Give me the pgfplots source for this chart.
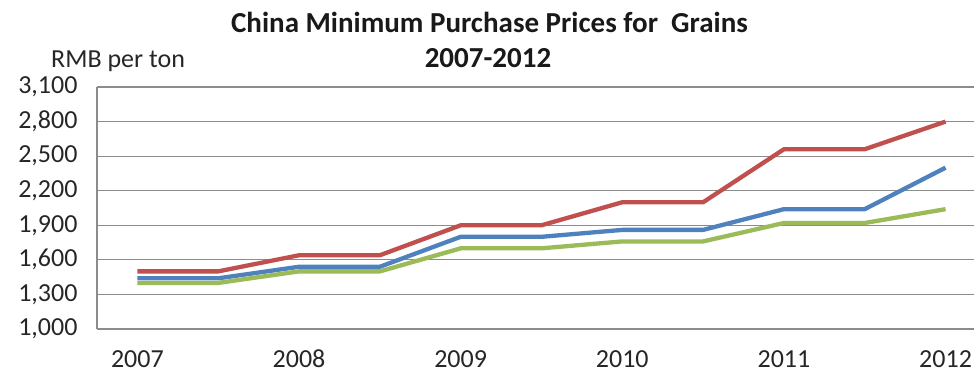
\documentclass[border=0pt]{standalone}
\usepackage{pgfplots}
\pgfplotsset{compat=1.18}
\usepackage{fontspec}
\setmainfont{Carlito}
\definecolor{exred}{HTML}{C0504D}
\definecolor{exblue}{HTML}{4F81BD}
\definecolor{exgreen}{HTML}{9BBB59}
\definecolor{gridc}{HTML}{8C8C8C}
\begin{document}
\begin{tikzpicture}[x=1pt,y=1pt]
\useasboundingbox (0,0) rectangle (976,378);
\begin{axis}[
  at={(97pt,49pt)}, anchor=south west,
  scale only axis, width=877pt, height=242pt,
  xmin=2006.75, xmax=2012.176,
  ymin=1000, ymax=3100,
  ytick={1000,1300,1600,1900,2200,2500,2800,3100},
  xtick={2007,2008,2009,2010,2011,2012},
  xticklabels={2007,2008,2009,2010,2011,2012},
  scaled y ticks=false,
  /pgf/number format/assume math mode=true,
  /pgf/number format/1000 sep={,},
  ymajorgrids, major grid style={gridc, line width=1.2pt},
  major tick length=0pt,
  axis x line*=bottom, axis y line*=left,
  axis line style={gridc, line width=1.2pt, -},
  tick label style={font=\fontsize{26}{30}\selectfont, text=black!85},
  yticklabel style={xshift=-16pt},
  xticklabel style={yshift=-18pt, text height=17pt, text depth=0pt},
  clip=false,
]
\addplot[exred, line width=4.3pt, line join=round] coordinates {
 (2007,1500) (2007.5,1500) (2008,1640) (2008.5,1640) (2009,1900) (2009.5,1900)
 (2010,2100) (2010.5,2100) (2011,2560) (2011.5,2560) (2012,2800)};
\addplot[exblue, line width=4.3pt, line join=round] coordinates {
 (2007,1440) (2007.5,1440) (2008,1540) (2008.5,1540) (2009,1800) (2009.5,1800)
 (2010,1860) (2010.5,1860) (2011,2040) (2011.5,2040) (2012,2400)};
\addplot[exgreen, line width=4.3pt, line join=round] coordinates {
 (2007,1400) (2007.5,1400) (2008,1500) (2008.5,1500) (2009,1700) (2009.5,1700)
 (2010,1760) (2010.5,1760) (2011,1920) (2011.5,1920) (2012,2040)};
\end{axis}
\node[anchor=base, inner sep=0pt, font=\fontsize{29}{33}\selectfont\bfseries, text=black!90] at (489.5,345) {China Minimum Purchase Prices for\ \ Grains};
\node[anchor=base, inner sep=0pt, font=\fontsize{29}{33}\selectfont\bfseries, text=black!90] at (488,310) {2007-2012};
\node[anchor=base west, inner sep=0pt, font=\fontsize{26}{30}\selectfont, text=black!85] at (51,310) {RMB per ton};
\end{tikzpicture}
\end{document}
